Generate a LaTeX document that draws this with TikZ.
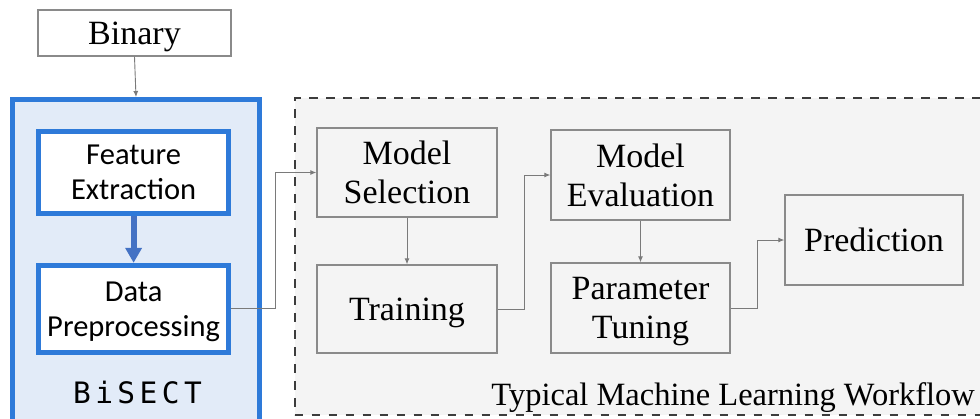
\documentclass[tikz,border=0pt]{standalone}
\usepackage{fontspec}
\setmainfont{Liberation Serif}
\newfontfamily\calfont{Carlito}
\newfontfamily\codefont[LetterSpace=15]{DejaVu Sans Mono}
\usetikzlibrary{arrows.meta}

\definecolor{bisectblue}{HTML}{2E7AD9}
\definecolor{bisectfill}{HTML}{E2EBF8}
\definecolor{flowblue}{HTML}{4472C4}
\definecolor{boxgray}{HTML}{8A8A8A}
\definecolor{linegray}{HTML}{7A7A7A}
\definecolor{dashgray}{HTML}{3C3C3C}
\definecolor{panelfill}{HTML}{F4F4F4}

\tikzset{
  graybox/.style={draw=boxgray, line width=1.4pt, inner sep=0pt, align=center,
    text depth=0pt, font=\fontsize{34}{39}\selectfont},
  bluebox/.style={draw=bisectblue, fill=white, line width=5pt, inner sep=0pt, align=center,
    text depth=0pt, minimum width=190pt, font=\calfont\fontsize{30.5}{35}\selectfont},
  conn/.style={draw=linegray, line width=0.9pt, -{Latex[length=6pt,width=5pt]}},
}

\begin{document}
\begin{tikzpicture}[x=1pt,y=-1pt]
\useasboundingbox (0,0) rectangle (980,418);
\clip (0,0) rectangle (980,418);

% BiSECT panel
\node (bisect) [draw=bisectblue, fill=bisectfill, line width=5pt,
  minimum width=247pt, minimum height=343pt, inner sep=0pt] at (136,271) {};
\node (bisectlabel) [inner sep=0pt, font=\codefont\fontsize{29.5}{32}\selectfont]
  at (137.5,392) {BiSECT};

% workflow panel
\node (workflow) [draw=dashgray, fill=panelfill, line width=2pt,
  dash pattern=on 8.5pt off 8.5pt, minimum width=720pt, minimum height=317pt,
  inner sep=0pt] at (654.5,256.5) {};
\node (caption) [anchor=base east, inner sep=0pt, font=\fontsize{32.5}{36}\selectfont]
  at (975,405) {Typical Machine Learning Workflow};

% input
\node (binary) [graybox, fill=white, minimum width=193pt, minimum height=46pt]
  at (134.5,33) {Binary};

% BiSECT steps
\node (fe) [bluebox, minimum height=82pt] at (133.6,172) {Feature\\Extraction};
\node (dp) [bluebox, minimum height=87pt] at (133.6,308.8) {Data\\Preprocessing};

% workflow steps
\node (ms) [graybox, minimum width=180pt, minimum height=89pt] at (407,172.5) {Model\\Selection};
\node (tr) [graybox, minimum width=180pt, minimum height=88pt] at (407,309) {Training};
\node (me) [graybox, minimum width=179pt, minimum height=90pt] at (640.5,175) {Model\\Evaluation};
\node (pt) [graybox, minimum width=179pt, minimum height=90pt] at (640.5,308) {Parameter\\Tuning};
\node (pr) [graybox, minimum width=178pt, minimum height=90pt] at (874,240) {Prediction};

% connectors
\draw[conn] (binary.south) -- (bisect.north);
\draw[draw=flowblue, line width=6pt, -{Triangle[length=15pt,width=16pt]}]
  (fe.south) -- (dp.north);
\draw[conn] (dp.east) -- ++(44,0) |- (ms.west);
\draw[conn] (ms.south) -- (tr.north);
\draw[conn] (tr.east) -- ++(27,0) |- (me.west);
\draw[conn] (me.south) -- (pt.north);
\draw[conn] (pt.east) -- ++(27,0) |- (pr.west);
\end{tikzpicture}
\end{document}
